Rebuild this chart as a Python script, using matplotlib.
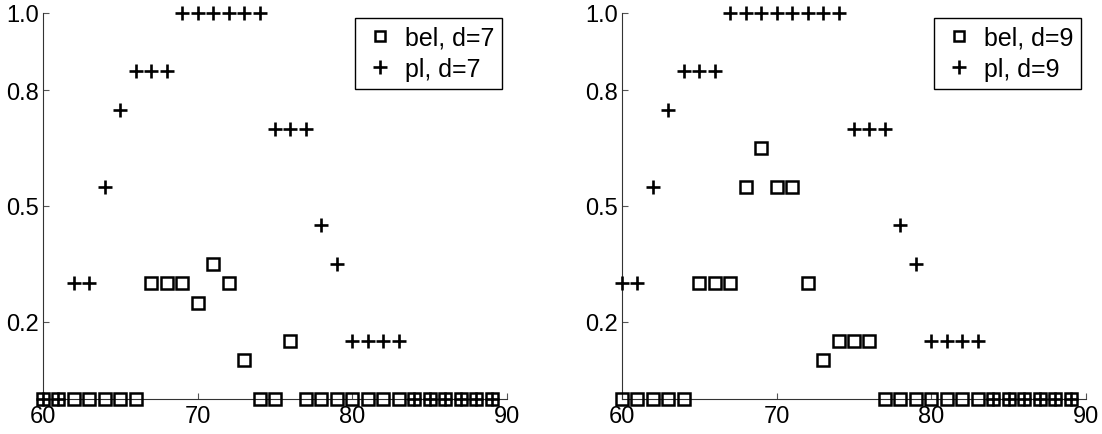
import matplotlib
matplotlib.use("Agg")
import matplotlib.pyplot as plt

plt.rcParams["font.family"] = ["Liberation Sans", "DejaVu Sans"]

x = list(range(60, 90))

# d = 7
bel_d7 = [0, 0, 0, 0, 0, 0, 0, 0.3, 0.3, 0.3, 0.25, 0.35, 0.3, 0.1, 0, 0,
          0.15, 0, 0, 0, 0, 0, 0, 0, 0, 0, 0, 0, 0, 0]
pl_d7 = [0, 0, 0.3, 0.3, 0.55, 0.75, 0.85, 0.85, 0.85, 1.0, 1.0, 1.0, 1.0, 1.0, 1.0,
         0.7, 0.7, 0.7, 0.45, 0.35, 0.15, 0.15, 0.15, 0.15, 0, 0, 0, 0, 0, 0]

# d = 9
bel_d9 = [0, 0, 0, 0, 0, 0.3, 0.3, 0.3, 0.55, 0.65, 0.55, 0.55, 0.3, 0.1, 0.15,
          0.15, 0.15, 0, 0, 0, 0, 0, 0, 0, 0, 0, 0, 0, 0, 0]
pl_d9 = [0.3, 0.3, 0.55, 0.75, 0.85, 0.85, 0.85, 1.0, 1.0, 1.0, 1.0, 1.0, 1.0, 1.0,
         1.0, 0.7, 0.7, 0.7, 0.45, 0.35, 0.15, 0.15, 0.15, 0.15, 0, 0, 0, 0, 0, 0]

panels = [("7", bel_d7, pl_d7), ("9", bel_d9, pl_d9)]
xticks = [60, 70, 80, 90]
yticks = [0.2, 0.5, 0.8, 1.0]

fig = plt.figure(figsize=(11.02, 4.35), dpi=100)
lefts = [43 / 1102, 622 / 1102]
width = 464 / 1102
bottom = 1 - 400 / 435
height = 386 / 435

for left, (d, bel, pl) in zip(lefts, panels):
    ax = fig.add_axes([left, bottom, width, height])
    ax.plot(x, bel, linestyle="none", marker="s", markersize=9,
            markerfacecolor="none", markeredgecolor="black", markeredgewidth=1.8,
            clip_on=False, label=f"bel, d={d}", zorder=3)
    ax.plot(x, pl, linestyle="none", marker="+", markersize=10.5,
            color="black", markeredgewidth=1.9, clip_on=False,
            label=f"pl, d={d}", zorder=4)
    ax.set_xlim(60, 90)
    ax.set_ylim(0, 1)
    ax.set_xticks(xticks)
    ax.set_yticks(yticks)
    ax.set_yticklabels([f"{v:.1f}" for v in yticks])
    ax.spines["top"].set_visible(False)
    ax.spines["right"].set_visible(False)
    for s in ("left", "bottom"):
        ax.spines[s].set_linewidth(0.8)
        ax.spines[s].set_color("#333333")
    ax.tick_params(direction="in", length=4, width=0.8, labelsize=17,
                   color="#555555")
    ax.tick_params(axis="x", pad=4)
    ax.tick_params(axis="y", pad=3)
    leg = ax.legend(loc="upper right", fontsize=18, frameon=True, fancybox=False,
                    edgecolor="black", framealpha=1, borderaxespad=0.2,
                    handlelength=1.4, handletextpad=0.3, labelspacing=0.3,
                    borderpad=0.3)
    leg.get_frame().set_linewidth(1.0)
    for h in leg.legend_handles:
        h.set_markersize(7 if h.get_marker() == "s" else 10)

fig.savefig("out.png", dpi=100)
